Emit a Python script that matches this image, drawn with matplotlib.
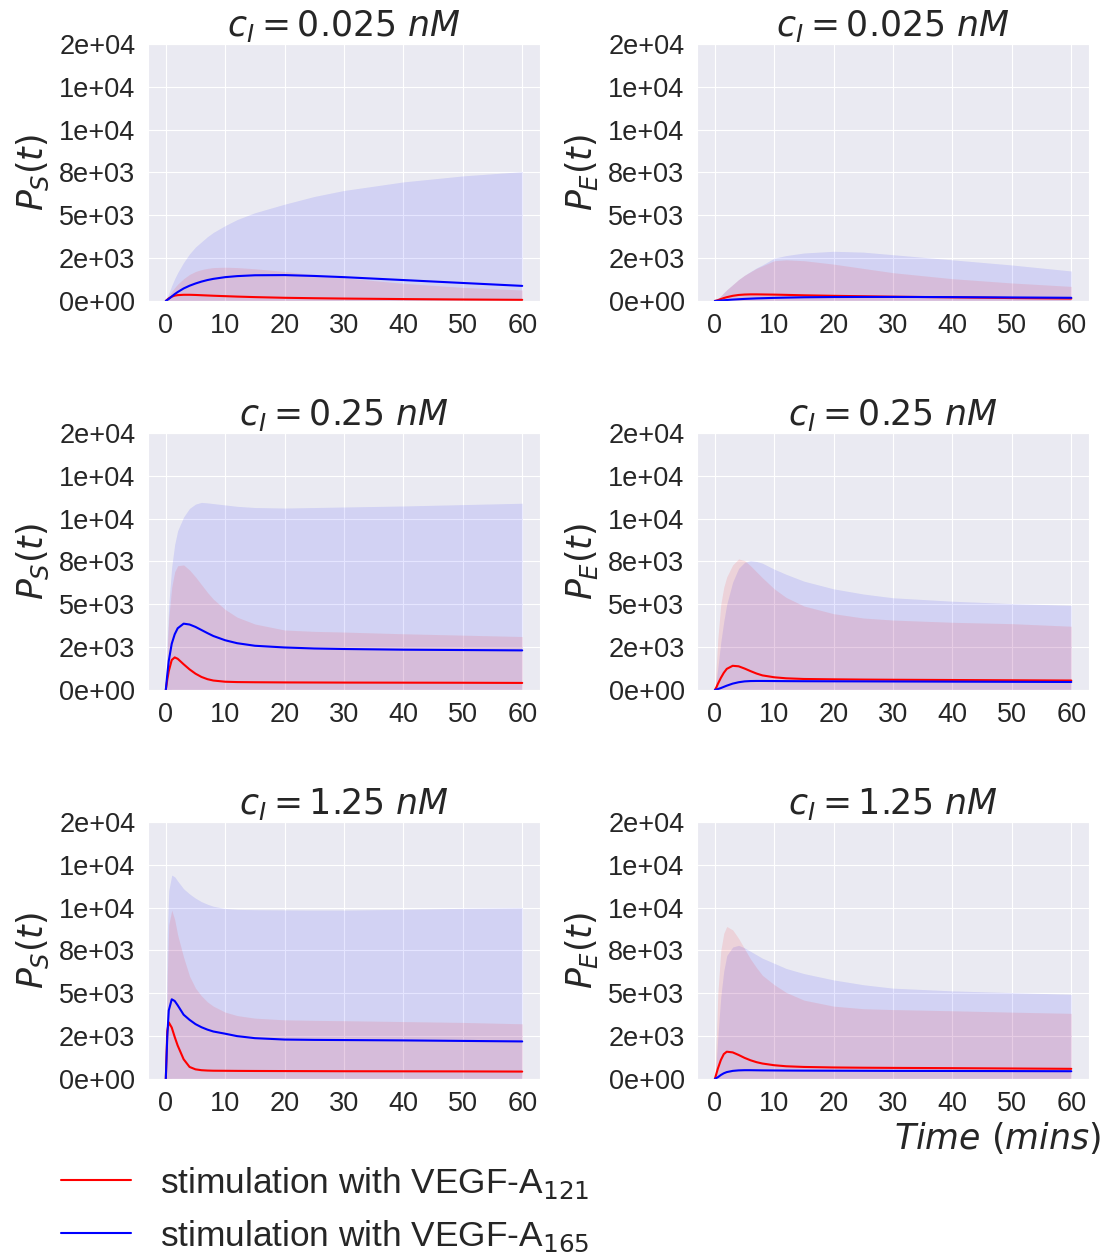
import numpy as np
import matplotlib
matplotlib.use('Agg')
import seaborn as sns
from matplotlib import pyplot as plt
from matplotlib.ticker import FormatStrFormatter

# time axis (mins)
t = [0, 0.25, 0.5, 1, 1.5, 2, 3, 4, 5, 6, 7, 8, 10, 12, 15, 20, 25, 30, 40, 50, 60]

# lower edge of the shaded bands (practically zero everywhere)
lower = [0, 10, 20, 30, 30, 30, 30, 30, 30, 30, 30, 30, 30, 30, 30, 30, 30, 30, 30, 30, 30]

# ---- P_S, c_I = 0.025 nM
ps_lo_red = [0, 80, 150, 250, 310, 340, 360, 360, 350, 335, 320, 305, 280, 255, 225, 185, 160, 140, 110, 85, 65]
ps_lo_blue = [0, 60, 120, 260, 400, 520, 730, 890, 1020, 1130, 1220, 1290, 1390, 1450, 1500, 1510, 1460, 1390, 1220, 1050, 880]
ps_lo_red_up = [0, 150, 300, 550, 780, 980, 1300, 1550, 1720, 1830, 1900, 1950, 1970, 1950, 1880, 1720, 1530, 1350, 1030, 790, 640]
ps_lo_blue_up = [0, 250, 450, 900, 1300, 1650, 2250, 2750, 3150, 3450, 3750, 4000, 4400, 4750, 5150, 5650, 6100, 6450, 6950, 7300, 7550]

# ---- P_E, c_I = 0.025 nM
pe_lo_red = [0, 20, 50, 110, 170, 220, 300, 350, 375, 385, 385, 380, 370, 355, 330, 300, 275, 250, 210, 170, 140]
pe_lo_blue = [0, 5, 10, 25, 40, 55, 80, 100, 120, 135, 150, 160, 180, 195, 215, 230, 235, 235, 225, 205, 185]
pe_lo_red_up = [0, 60, 130, 300, 480, 650, 950, 1250, 1500, 1700, 1900, 2050, 2350, 2400, 2350, 2150, 1900, 1650, 1300, 1050, 850]
pe_lo_blue_up = [0, 60, 130, 300, 480, 650, 950, 1250, 1500, 1720, 1930, 2100, 2500, 2650, 2800, 2900, 2850, 2700, 2400, 2100, 1750]

# ---- P_S, c_I = 0.25 nM
ps_mid_red = [0, 600, 1100, 1750, 1900, 1820, 1500, 1200, 950, 760, 630, 550, 480, 460, 450, 440, 435, 430, 425, 420, 410]
ps_mid_blue = [0, 900, 1700, 2700, 3250, 3600, 3870, 3820, 3680, 3500, 3320, 3150, 2900, 2730, 2580, 2480, 2420, 2390, 2350, 2330, 2310]
ps_mid_red_up = [0, 2500, 4200, 6000, 6900, 7250, 7300, 7000, 6600, 6150, 5700, 5300, 4700, 4250, 3850, 3500, 3420, 3380, 3280, 3200, 3120]
ps_mid_blue_up = [0, 3000, 5000, 7200, 8500, 9300, 10100, 10600, 10850, 10950, 10920, 10880, 10800, 10720, 10650, 10620, 10650, 10680, 10740, 10820, 10900]

# ---- P_E, c_I = 0.25 nM
pe_mid_red = [0, 150, 350, 700, 1000, 1230, 1410, 1380, 1250, 1100, 960, 850, 740, 680, 640, 620, 605, 595, 580, 565, 550]
pe_mid_blue = [0, 20, 50, 110, 180, 250, 370, 450, 500, 520, 525, 525, 520, 515, 510, 505, 500, 495, 485, 475, 465]
pe_mid_red_up = [0, 1500, 3000, 5000, 6000, 6600, 7300, 7650, 7550, 7250, 6900, 6550, 5900, 5400, 4900, 4450, 4200, 4080, 3950, 3870, 3720]
pe_mid_blue_up = [0, 600, 1300, 2800, 4000, 5000, 6300, 7100, 7450, 7550, 7500, 7400, 7050, 6750, 6350, 5900, 5600, 5380, 5180, 5040, 4940]

# ---- P_S, c_I = 1.25 nM
ps_hi_red = [0, 2800, 3300, 3000, 2450, 1950, 1150, 700, 560, 510, 490, 480, 475, 470, 465, 460, 455, 450, 445, 440, 430]
ps_hi_blue = [0, 2500, 4000, 4650, 4550, 4300, 3750, 3450, 3200, 3020, 2880, 2770, 2640, 2500, 2380, 2300, 2280, 2270, 2250, 2220, 2190]
ps_hi_red_up = [0, 6000, 9000, 9850, 9300, 8400, 7100, 6000, 5300, 4850, 4500, 4250, 3900, 3700, 3550, 3450, 3420, 3400, 3350, 3300, 3220]
ps_hi_blue_up = [0, 8500, 11000, 11900, 11800, 11550, 11100, 10800, 10550, 10350, 10200, 10080, 9950, 9900, 9880, 9870, 9860, 9860, 9900, 9960, 10000]

# ---- P_E, c_I = 1.25 nM
pe_hi_red = [0, 300, 600, 1100, 1450, 1590, 1550, 1400, 1230, 1090, 980, 900, 800, 740, 700, 670, 655, 645, 630, 610, 590]
pe_hi_blue = [0, 50, 100, 230, 330, 400, 470, 500, 510, 510, 505, 500, 495, 490, 485, 480, 475, 470, 465, 458, 450]
pe_hi_red_up = [0, 2500, 5000, 7500, 8500, 8900, 8700, 8200, 7600, 7000, 6500, 6050, 5500, 5050, 4600, 4250, 4100, 4050, 3980, 3900, 3830]
pe_hi_blue_up = [0, 1000, 2500, 4800, 6300, 7200, 7700, 7800, 7650, 7450, 7250, 7050, 6750, 6450, 6150, 5780, 5500, 5300, 5140, 5040, 4940]

concentrations = ['0.025', '0.25', '1.25']
ylabels = [r'$P_S(t)$', r'$P_E(t)$']
yticks = [0, 2500, 5000, 7500, 10000, 12500, 15000]
xticks = [0, 10, 20, 30, 40, 50, 60]

panels = [
    [(ps_lo_red, ps_lo_red_up, ps_lo_blue, ps_lo_blue_up), (pe_lo_red, pe_lo_red_up, pe_lo_blue, pe_lo_blue_up)],
    [(ps_mid_red, ps_mid_red_up, ps_mid_blue, ps_mid_blue_up), (pe_mid_red, pe_mid_red_up, pe_mid_blue, pe_mid_blue_up)],
    [(ps_hi_red, ps_hi_red_up, ps_hi_blue, ps_hi_blue_up), (pe_hi_red, pe_hi_red_up, pe_hi_blue, pe_hi_blue_up)],
]

sns.set_style('darkgrid')
plt.rcParams['font.family'] = ['Liberation Sans', 'DejaVu Sans']
plt.rcParams['mathtext.fontset'] = 'dejavusans'

fig = plt.figure(figsize=(11.16, 12.54), dpi=100)

lefts = [0.1326, 0.6246]
bottoms = [0.760, 0.4498, 0.1396]
width, height = 0.3513, 0.2049

axes = []
for i in range(3):
    for j in range(2):
        ax = fig.add_axes([lefts[j], bottoms[i], width, height])
        red, red_up, blue, blue_up = panels[i][j]
        ax.fill_between(t, lower, blue_up, color='blue', alpha=0.1, linewidth=0)
        ax.fill_between(t, lower, red_up, color='red', alpha=0.1, linewidth=0)
        l1, = ax.plot(t, red, color='red', lw=1.5, label=r'stimulation with VEGF-A$_{121}$')
        l2, = ax.plot(t, blue, color='blue', lw=1.5, label=r'stimulation with VEGF-A$_{165}$')
        ax.set_ylim(0, 15000)
        ax.set_xlim(-3, 63)
        ax.set_yticks(yticks)
        ax.set_xticks(xticks)
        ax.yaxis.set_major_formatter(FormatStrFormatter('%.0e'))
        ax.tick_params(axis='both', labelsize=19.5, pad=9, length=0)
        ax.set_title(r'$c_I = $' + concentrations[i] + r'$\ nM$', fontsize=25,
                     family='DejaVu Sans')
        ax.set_ylabel(ylabels[j], fontsize=25, labelpad=6)
        axes.append(ax)

axes[-1].set_xlabel(r'$Time\ (mins)$', fontsize=25, ha='right')
axes[-1].xaxis.set_label_coords(1.03, -0.16)

fig.legend(handles=[l1, l2], loc='upper left', bbox_to_anchor=(0.026, 0.0965),
           frameon=False, fontsize=25.4, handlelength=2.0, handletextpad=0.8,
           labelspacing=0.5)

fig.savefig('out.png', dpi=100)
